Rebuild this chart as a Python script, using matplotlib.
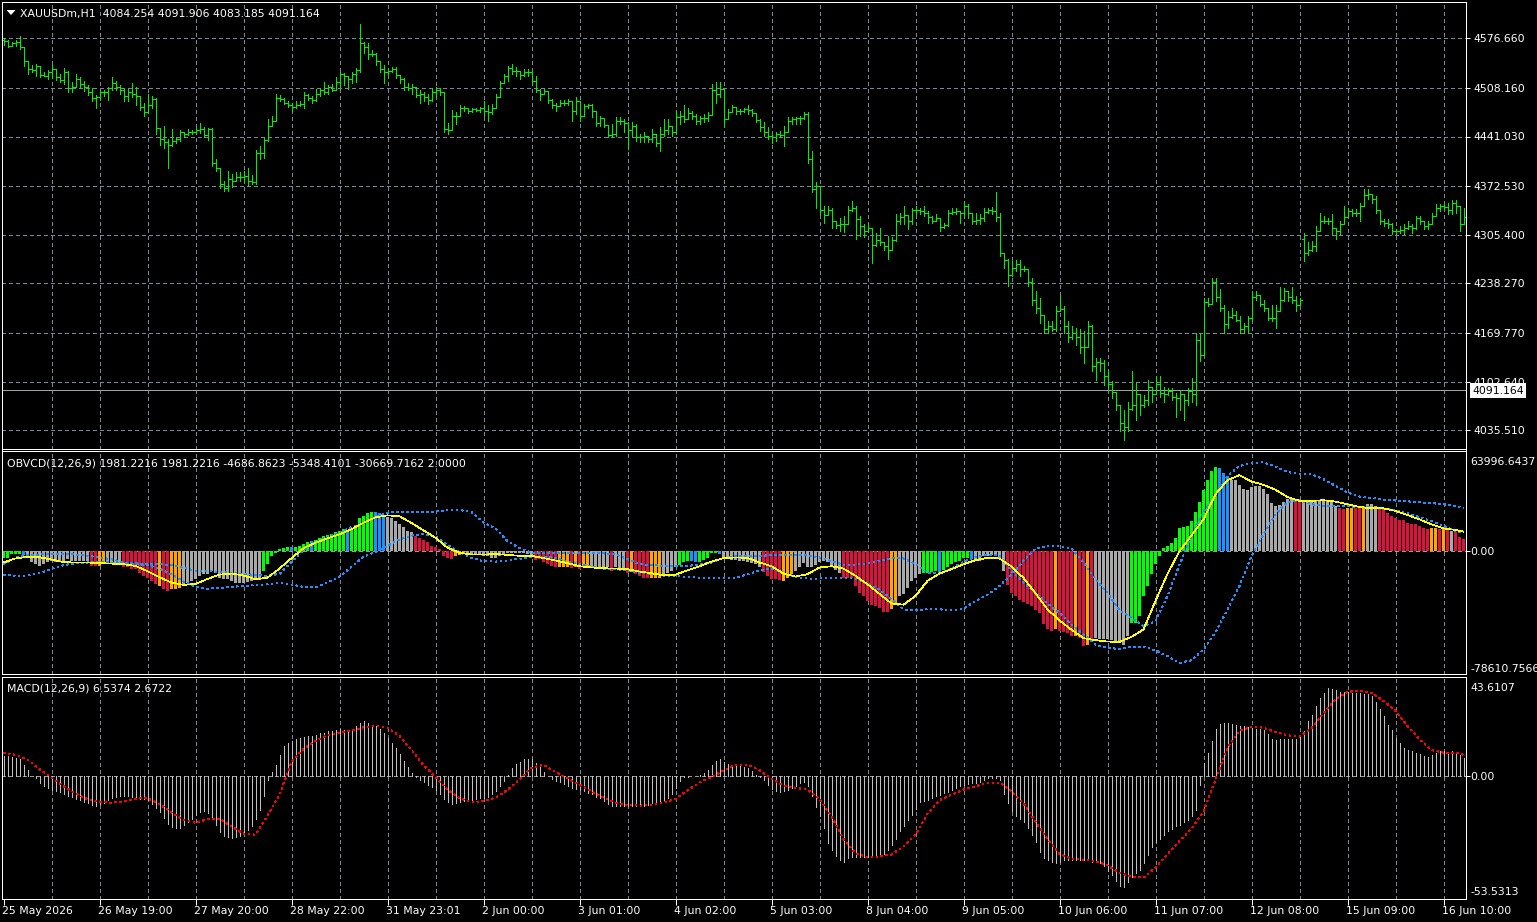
import matplotlib
matplotlib.use("Agg")
import matplotlib.pyplot as plt
from matplotlib.transforms import blended_transform_factory, offset_copy
from matplotlib.patches import Polygon

plt.rcParams["lines.scale_dashes"] = False
plt.rcParams["font.family"] = ["DejaVu Sans"]

W, H, DPI = 1537, 922, 100

# ---------------- price bars (H1) ----------------
opens = [
 4575,4573,4566,4570,4572,4564,4545,4535,4533,4538, 4526,4525,4530,4535,4523,4519,4530,4508,4510,4521,
 4514,4510,4503,4494,4496,4502,4503,4508,4515,4510, 4505,4497,4503,4500,4497,4482,4475,4485,4493,4453,
 4437,4433,4430,4435,4437,4447,4445,4447,4448,4450, 4452,4443,4451,4405,4398,4375,4370,4383,4380,4385,
 4385,4386,4380,4379,4418,4418,4436,4455,4462,4494, 4493,4488,4485,4482,4485,4486,4498,4494,4492,4500,
 4505,4503,4510,4506,4517,4528,4525,4520,4528,4533, 4570,4565,4555,4555,4545,4535,4530,4532,4534,4526,
 4520,4510,4508,4510,4498,4500,4495,4492,4502,4505, 4503,4452,4450,4470,4470,4480,4480,4476,4479,4478,
 4480,4476,4475,4480,4495,4515,4525,4536,4532,4532, 4526,4530,4530,4518,4505,4500,4504,4491,4485,4483,
 4487,4487,4490,4477,4490,4470,4483,4484,4477,4460, 4466,4457,4443,4444,4462,4463,4460,4450,4455,4440,
 4440,4442,4437,4445,4432,4445,4450,4455,4447,4468, 4470,4465,4473,4470,4463,4466,4466,4471,4505,4500,
 4507,4465,4475,4482,4477,4477,4479,4478,4473,4464, 4454,4448,4442,4440,4444,4443,4448,4462,4465,4466,
 4467,4472,4410,4368,4373,4340,4333,4340,4325,4319, 4320,4320,4340,4342,4327,4318,4310,4315,4292,4298,
 4295,4290,4285,4298,4325,4330,4333,4325,4340,4340, 4338,4335,4330,4325,4328,4316,4319,4335,4337,4338,
 4335,4345,4335,4325,4326,4328,4337,4340,4338,4330, 4280,4270,4250,4260,4265,4258,4258,4240,4215,4205,
 4195,4175,4180,4176,4200,4203,4180,4165,4170,4165, 4150,4150,4180,4125,4130,4128,4110,4100,4088,4070,
 4045,4040,4065,4070,4085,4070,4078,4095,4085,4100, 4087,4085,4090,4082,4080,4085,4078,4090,4085,4160,
 4140,4212,4210,4240,4220,4205,4182,4192,4195,4188, 4175,4180,4190,4220,4222,4210,4205,4190,4190,4200,
 4215,4228,4220,4215,4208,4300,4280,4285,4290,4310, 4325,4325,4325,4315,4310,4320,4330,4338,4336,4336,
 4345,4360,4362,4355,4340,4325,4322,4320,4310,4310, 4312,4315,4318,4315,4328,4325,4318,4320,4332,4343,
 4345,4344,4340,4350,4345,4320]
highs = [
 4577,4575,4572,4574,4580,4560,4545,4540,4541,4537, 4530,4533,4540,4533,4528,4536,4532,4516,4528,4523,
 4518,4512,4508,4499,4505,4506,4510,4523,4518,4512, 4507,4507,4515,4509,4493,4488,4500,4497,4494,4448,
 4455,4438,4452,4440,4450,4448,4452,4450,4453,4460, 4454,4453,4453,4410,4393,4380,4393,4390,4392,4392,
 4393,4398,4388,4422,4428,4440,4465,4470,4500,4498, 4494,4490,4488,4490,4490,4503,4500,4497,4507,4508,
 4516,4512,4513,4523,4530,4529,4525,4530,4536,4597, 4572,4570,4560,4557,4545,4540,4535,4537,4537,4525,
 4522,4515,4514,4505,4505,4503,4500,4508,4510,4508, 4502,4460,4478,4475,4485,4483,4481,4481,4480,4482,
 4490,4485,4486,4500,4518,4527,4539,4541,4537,4530, 4534,4534,4532,4525,4507,4507,4502,4493,4488,4491,
 4491,4493,4488,4495,4486,4486,4486,4486,4472,4470, 4463,4456,4458,4468,4468,4465,4461,4461,4458,4445,
 4447,4442,4451,4445,4454,4465,4465,4454,4477,4477, 4484,4481,4477,4472,4470,4472,4475,4514,4516,4516,
 4502,4479,4484,4481,4479,4481,4484,4479,4472,4465, 4461,4454,4445,4447,4449,4456,4468,4468,4468,4470,
 4475,4475,4421,4378,4370,4345,4345,4343,4325,4329, 4331,4345,4352,4345,4332,4320,4322,4315,4308,4315,
 4295,4304,4302,4334,4336,4345,4331,4343,4345,4343, 4345,4338,4331,4334,4327,4322,4340,4343,4343,4338,
 4352,4348,4334,4336,4334,4343,4343,4344,4364,4336, 4281,4272,4269,4271,4271,4262,4258,4246,4228,4218,
 4191,4186,4186,4207,4221,4207,4186,4179,4177,4175, 4172,4186,4181,4135,4135,4133,4119,4103,4082,4071,
 4064,4075,4117,4101,4078,4084,4105,4094,4110,4110, 4096,4094,4094,4087,4091,4084,4094,4108,4170,4170,
 4218,4218,4246,4246,4230,4209,4200,4204,4200,4193, 4184,4193,4228,4228,4216,4216,4204,4209,4209,4234,
 4232,4225,4234,4221,4218,4308,4295,4297,4318,4336, 4331,4329,4334,4315,4325,4345,4343,4341,4341,4350,
 4368,4368,4359,4359,4338,4327,4327,4322,4313,4318, 4320,4325,4320,4331,4331,4325,4325,4336,4348,4348,
 4348,4350,4354,4354,4338,4343]
lows = [
 4568,4565,4566,4566,4562,4539,4528,4530,4525,4523, 4524,4521,4522,4519,4516,4513,4502,4502,4510,4508,
 4504,4499,4490,4481,4492,4497,4492,4505,4506,4500, 4490,4490,4496,4484,4478,4470,4475,4480,4445,4430,
 4425,4398,4428,4432,4435,4440,4443,4444,4446,4446, 4440,4436,4400,4393,4370,4366,4366,4372,4380,4380,
 4378,4374,4375,4375,4410,4412,4435,4458,4465,4490, 4486,4482,4476,4480,4483,4480,4491,4487,4490,4497,
 4500,4500,4504,4505,4510,4512,4507,4515,4516,4530, 4556,4548,4552,4540,4530,4515,4526,4530,4522,4515,
 4505,4505,4500,4496,4487,4490,4486,4490,4495,4498, 4447,4445,4455,4458,4470,4476,4474,4475,4476,4475,
 4470,4462,4472,4486,4497,4516,4518,4527,4525,4521, 4525,4525,4514,4502,4491,4500,4488,4481,4477,4484,
 4484,4484,4463,4472,4463,4472,4481,4468,4456,4456, 4454,4440,4440,4442,4458,4447,4424,4442,4435,4433,
 4433,4433,4433,4428,4421,4442,4445,4442,4456,4458, 4461,4465,4465,4458,4458,4461,4463,4472,4488,4495,
 4456,4465,4475,4472,4472,4475,4472,4470,4461,4449, 4442,4438,4432,4435,4440,4428,4449,4458,4458,4458,
 4465,4405,4364,4343,4334,4322,4336,4315,4315,4311, 4309,4320,4338,4299,4304,4302,4311,4267,4290,4292,
 4285,4272,4288,4297,4320,4320,4313,4320,4334,4334, 4331,4322,4322,4324,4311,4315,4318,4334,4334,4322,
 4331,4329,4320,4320,4320,4325,4336,4334,4325,4276, 4260,4235,4248,4255,4248,4255,4235,4209,4198,4184,
 4170,4170,4172,4172,4200,4170,4158,4161,4154,4142, 4128,4154,4117,4105,4117,4098,4091,4080,4064,4034,
 4022,4034,4064,4050,4057,4068,4071,4075,4087,4082, 4075,4084,4078,4054,4064,4050,4071,4075,4071,4131,
 4158,4207,4211,4214,4200,4170,4177,4191,4186,4170, 4170,4170,4188,4216,4207,4200,4188,4186,4177,4200,
 4214,4214,4211,4200,4209,4269,4278,4283,4283,4315, 4322,4320,4306,4299,4306,4322,4334,4331,4331,4324,
 4345,4355,4350,4336,4320,4318,4315,4306,4306,4308, 4306,4313,4308,4313,4320,4313,4313,4322,4334,4338,
 4341,4334,4334,4336,4311,4320]
closes = [
 4573,4566,4570,4572,4564,4545,4535,4533,4538,4526, 4525,4530,4535,4523,4519,4530,4508,4510,4521,4514,
 4510,4503,4494,4496,4502,4503,4508,4515,4510,4505, 4497,4503,4500,4497,4482,4475,4485,4493,4453,4437,
 4433,4430,4435,4437,4447,4445,4447,4448,4450,4452, 4443,4451,4405,4398,4375,4370,4383,4380,4385,4385,
 4386,4380,4379,4418,4418,4436,4455,4462,4494,4493, 4488,4485,4482,4485,4486,4498,4494,4492,4500,4505,
 4503,4510,4506,4517,4528,4525,4520,4528,4533,4570, 4565,4555,4555,4545,4535,4530,4532,4534,4526,4520,
 4510,4508,4510,4498,4500,4495,4492,4502,4505,4503, 4452,4450,4470,4470,4480,4480,4476,4479,4478,4480,
 4476,4475,4480,4495,4515,4525,4536,4532,4532,4526, 4530,4530,4518,4505,4500,4504,4491,4485,4483,4487,
 4487,4490,4477,4490,4470,4483,4484,4477,4460,4466, 4457,4443,4444,4462,4463,4460,4450,4455,4440,4440,
 4442,4437,4445,4432,4445,4450,4455,4447,4468,4470, 4465,4473,4470,4463,4466,4466,4471,4505,4500,4507,
 4465,4475,4482,4477,4477,4479,4478,4473,4464,4454, 4448,4442,4440,4444,4443,4448,4462,4465,4466,4467,
 4472,4410,4368,4373,4340,4333,4340,4325,4319,4320, 4320,4340,4342,4327,4318,4310,4315,4292,4298,4295,
 4290,4285,4298,4325,4330,4333,4325,4340,4340,4338, 4335,4330,4325,4328,4316,4319,4335,4337,4338,4335,
 4345,4335,4325,4326,4328,4337,4340,4338,4330,4280, 4270,4250,4260,4265,4258,4258,4240,4215,4205,4195,
 4175,4180,4176,4200,4203,4180,4165,4170,4165,4150, 4150,4180,4125,4130,4128,4110,4100,4088,4070,4045,
 4040,4065,4070,4085,4070,4078,4095,4085,4100,4087, 4085,4090,4082,4080,4085,4078,4090,4085,4160,4140,
 4212,4210,4240,4220,4205,4182,4192,4195,4188,4175, 4180,4190,4220,4222,4210,4205,4190,4190,4200,4215,
 4228,4220,4215,4208,4215,4280,4285,4290,4310,4325, 4325,4325,4315,4310,4320,4330,4338,4336,4336,4345,
 4360,4362,4355,4340,4325,4322,4320,4310,4310,4312, 4315,4318,4315,4328,4325,4318,4320,4332,4343,4345,
 4344,4340,4350,4345,4320,4330]

price_ticks = [4576.660, 4508.160, 4441.030, 4372.530, 4305.400, 4238.270, 4169.770, 4102.640, 4035.510]
price_ylim = (4009.06, 4626.12)
last_price = 4091.164
title_price = "XAUUSDm,H1  4084.254 4091.906 4083.185 4091.164"

# ---------------- OBVCD (values in thousands) ----------------
obv_hist_k = [
 -4.1,-4.1,-1.9,-1.9,-1.9,-2.6,-3.0,-7.3,-8.4,-9.5, -8.4,-7.3,-6.2,-7.3,-7.3,-6.2,-5.2,-6.2,-6.2,-6.2,
 -6.2,-6.2,-9.5,-9.5,-9.5,-8.4,-8.4,-8.4,-8.4,-8.4, -10.5,-10.5,-11.6,-11.6,-13.8,-15.9,-17.0,-19.1,-21.3,-22.4,
 -24.5,-25.6,-24.5,-24.5,-23.4,-21.3,-20.2,-19.1,-18.1,-15.9, -14.8,-14.8,-12.7,-13.8,-17.0,-18.1,-18.1,-19.1,-20.2,-20.2,
 -20.2,-19.8,-19.1,-17.0,-17.0,-12.7,-8.4,-3.0,-0.9,1.3, 1.7,2.4,2.6,2.6,3.4,4.5,6.0,6.5,7.3,8.2,
 9.5,10.3,11.0,12.0,13.1,14.2,13.6,14.2,16.3,21.1, 22.8,24.3,25.0,25.0,24.3,22.8,21.7,21.1,19.6,17.4,
 15.3,13.1,12.0,9.5,8.2,7.3,5.6,3.0,2.8,1.3, -3.4,-4.1,-5.2,-3.4,-2.6,-1.3,-1.3,-1.7,-1.7,-1.7,
 -3.0,-3.4,-4.1,-4.1,-3.0,-1.9,-1.3,-0.9,-0.9,-0.9, -1.3,-1.9,-2.6,-5.6,-5.2,-6.9,-8.4,-9.5,-9.9,-9.9,
 -9.9,-9.9,-10.8,-10.5,-11.2,-10.5,-9.9,-9.9,-10.5,-10.5, -10.5,-10.5,-12.7,-10.5,-11.2,-11.2,-13.8,-13.3,-14.8,-15.9,
 -17.0,-17.0,-17.0,-17.0,-17.0,-14.8,-13.8,-12.7,-10.5,-9.0, -7.3,-6.2,-6.2,-7.3,-6.9,-5.6,-4.1,-1.3,-1.3,-1.9,
 -4.7,-5.2,-5.6,-5.8,-6.2,-6.2,-6.9,-7.7,-8.4,-9.9, -13.3,-16.3,-17.6,-18.1,-18.5,-19.1,-17.0,-14.8,-12.7,-9.9,
 -7.7,-9.9,-9.9,-9.0,-6.9,-6.2,-7.3,-9.5,-12.0,-14.2, -17.0,-17.0,-17.0,-22.4,-26.7,-28.8,-32.0,-34.8,-35.3,-36.4,
 -39.1,-39.1,-37.4,-33.6,-28.8,-27.7,-23.4,-19.1,-17.0,-14.8, -13.8,-13.8,-13.3,-12.7,-13.3,-12.0,-9.9,-8.4,-7.3,-6.2,
 -4.1,-4.1,-5.2,-5.6,-6.2,-3.4,-3.0,-2.6,-3.0,-5.2, -12.7,-21.9,-26.7,-28.8,-31.4,-32.7,-34.2,-35.3,-38.1,-39.6,
 -47.1,-50.3,-51.0,-50.3,-51.4,-52.1,-52.5,-54.6,-54.6,-55.7, -61.1,-60.0,-58.5,-55.7,-56.4,-56.4,-56.4,-56.8,-57.9,-58.9,
 -60.0,-54.6,-46.0,-46.0,-41.7,-28.8,-22.4,-14.8,-8.4,-3.0, 1.7,3.4,5.2,8.6,14.6,15.3,16.3,19.6,25.4,31.5,
 39.3,45.6,51.6,54.3,53.3,50.1,48.4,45.8,45.6,42.6, 39.8,39.1,40.9,41.9,41.9,39.8,37.0,31.2,29.0,29.5,
 31.6,33.3,33.8,32.7,31.8,31.8,32.7,31.8,32.3,32.7, 32.7,32.7,31.8,29.0,27.5,26.9,27.5,28.0,27.5,27.5,
 28.4,30.5,30.5,29.0,27.5,26.2,24.7,22.6,21.1,20.0, 20.0,18.3,17.6,17.6,16.1,15.1,14.4,14.6,15.1,14.4,
 14.6,14.0,12.9,12.3,9.0,7.5]
# colour of each histogram bar, as runs: G=lime, B=dodger blue, S=gray, R=crimson, O=orange
obv_color_runs = [
 ("G",5),("B",1),("S",16),("R",2),("O",2),("S",4),("R",9),("O",1),("R",2),("O",3),("S",20),
 ("G",7),("B",1),("G",4),("B",1),("G",8),("B",1),("G",6),("B",3),("S",7),("R",10),("O",2),
 ("S",18),("R",6),("O",3),("R",1),("O",1),("R",1),("O",2),("S",5),("R",1),("S",3),("R",1),
 ("O",1),("R",4),("O",3),("S",4),("G",3),("B",2),("G",5),("B",1),("S",10),("R",5),("O",3),
 ("S",12),("R",12),("O",2),("S",6),("G",4),("B",1),("G",7),("B",1),("S",8),("R",12),("O",1),
 ("R",4),("O",1),("R",2),("O",1),("R",1),("S",9),("G",22),("B",3),("S",16),("R",2),("S",9),
 ("R",2),("O",2),("R",2),("O",1),("S",3),("R",13),("O",2),("R",1),("O",1),("R",1),("S",1),("R",3)]

# smooth lines sampled every third bar (plus the last bar)
line_bars = list(range(0, 364, 3)) + [365]
obv_signal_k = [
 -7.3,-4.7,-3.7,-3.9,-5.4,-7.1,-7.3,-7.3,-7.7,-8.0,-8.4,-9.5,-12.9,-16.8,-20.2,-21.7,-21.1,-17.9,-15.1,-14.4,
 -15.7,-18.1,-17.0,-11.2,-4.5,1.9,5.4,8.2,10.8,14.0,18.3,21.7,23.0,22.4,18.1,13.3,8.6,2.2,-1.1,-2.2,
 -2.2,-1.9,-2.4,-3.0,-3.0,-4.5,-6.0,-7.7,-9.7,-10.5,-11.0,-11.2,-11.6,-13.1,-14.2,-15.5,-15.1,-12.3,-9.7,-6.7,
 -4.5,-4.1,-4.3,-7.3,-9.7,-14.4,-16.3,-14.8,-10.5,-9.7,-11.2,-15.9,-21.3,-27.5,-33.6,-34.4,-28.8,-19.1,-14.4,-11.6,
 -8.4,-5.8,-4.3,-4.7,-9.9,-17.2,-27.1,-37.4,-44.5,-50.5,-55.9,-57.2,-58.1,-58.3,-55.1,-50.3,-32.0,-14.6,0.0,10.1,
 20.4,36.6,45.6,48.8,44.7,42.6,39.4,34.8,32.3,32.3,32.7,31.8,30.1,28.4,27.5,27.5,25.8,23.2,20.4,17.2,
 14.6,13.6,12.5]
obv_band_a_k = [
 -15.5,-15.7,-15.7,-14.2,-11.4,-9.0,-7.7,-7.3,-7.1,-7.3,-7.7,-8.4,-9.0,-11.2,-14.8,-19.6,-22.8,-24.1,-23.7,-23.0,
 -22.4,-21.7,-21.3,-20.2,-21.5,-23.0,-23.2,-20.2,-16.3,-10.1,-3.7,-0.4,3.4,7.5,9.9,11.0,9.5,4.1,-0.6,-4.3,
 -6.5,-6.7,-6.0,-4.9,-3.9,-3.4,-4.5,-6.7,-8.4,-9.7,-11.2,-11.6,-12.3,-13.8,-14.6,-15.7,-16.1,-16.6,-17.0,-17.2,
 -17.4,-17.2,-14.8,-12.5,-11.2,-13.8,-16.6,-17.6,-17.6,-17.2,-17.0,-17.6,-20.9,-24.5,-31.0,-37.4,-38.1,-37.2,-37.4,-38.1,
 -37.0,-32.0,-28.0,-22.4,-15.1,-6.2,1.5,3.4,3.0,1.9,-7.3,-18.1,-26.7,-38.1,-42.8,-48.2,-45.0,-28.8,-8.8,9.9,
 25.0,36.1,48.4,54.6,56.8,57.0,54.4,50.8,49.5,49.3,46.2,41.9,37.6,35.1,34.2,33.1,32.5,32.0,31.4,30.8,
 30.1,29.0,27.5]
obv_band_b_k = [
 -8.4,-4.3,-2.6,-2.2,-1.9,-1.9,-2.2,-3.0,-4.1,-5.2,-7.3,-7.7,-8.4,-8.4,-9.0,-10.8,-12.5,-12.9,-13.3,-14.0,
 -14.6,-15.3,-15.9,-14.6,-6.9,0.6,6.0,9.2,11.8,15.5,18.1,21.9,24.5,25.4,25.2,25.0,25.4,26.5,26.5,25.0,
 18.5,14.6,6.5,1.9,-0.9,-1.3,-1.3,-1.1,-1.3,-1.3,-1.5,-1.9,-5.2,-8.4,-9.0,-9.5,-9.7,-9.7,-8.4,-7.3,
 -4.5,-3.4,-3.0,-3.0,-2.6,-2.4,-2.2,-2.8,-4.1,-6.5,-8.6,-8.8,-7.7,-6.2,-4.7,-4.7,-8.2,-13.8,-14.4,-11.2,
 -6.9,-3.7,-2.2,-2.6,-12.7,-20.2,-26.7,-33.6,-39.6,-47.1,-53.6,-60.0,-62.2,-62.8,-61.5,-61.3,-63.7,-67.5,-71.8,-70.1,
 -63.2,-52.1,-37.4,-22.4,-3.2,10.8,23.7,31.6,32.7,30.1,29.0,29.0,28.8,28.4,28.0,27.3,26.2,24.3,21.7,19.4,
 16.3,12.9,11.8]
obv_ylim = (-78610.7566, 63996.6437)
obv_title = "OBVCD(12,26,9) 1981.2216 1981.2216 -4686.8623 -5348.4101 -30669.7162 2.0000"

# ---------------- MACD ----------------
macd_main = [
 8.8,8.8,8.5,8.1,7.3,5.1,2.6,0.0,-0.7,-3.2, -4.4,-5.3,-5.9,-6.4,-7.0,-7.9,-8.5,-9.1,-10.0,-10.5,
 -11.3,-11.9,-12.6,-12.9,-12.3,-11.6,-10.5,-9.5,-8.9,-8.6, -8.5,-8.8,-8.9,-9.4,-9.8,-10.1,-10.5,-12.0,-13.9,-15.8,
 -18.3,-20.8,-22.3,-22.9,-22.7,-21.5,-20.1,-18.8,-17.1,-15.8, -15.4,-16.1,-17.9,-21.5,-24.3,-26.1,-26.8,-27.1,-26.8,-26.2,
 -25.2,-23.7,-22.0,-18.8,-14.7,-8.5,-1.5,1.9,4.8,9.2, 13.2,14.4,15.2,16.1,16.7,17.3,17.6,17.7,18.0,18.8,
 19.0,19.6,19.9,20.4,20.5,20.2,19.9,20.8,22.0,23.4, 24.0,23.4,22.6,22.0,20.8,18.8,16.8,14.7,12.5,9.5,
 6.6,4.1,1.2,-0.4,-1.5,-2.6,-3.7,-4.7,-5.9,-7.6, -10.0,-11.4,-12.3,-11.9,-11.3,-10.7,-10.4,-10.3,-10.0,-9.7,
 -9.5,-9.1,-7.6,-6.3,-4.4,-2.1,0.7,3.5,5.3,6.4, 7.3,7.6,7.3,5.9,3.8,1.8,0.1,-1.2,-1.9,-2.6,
 -3.5,-4.2,-5.0,-5.6,-6.0,-6.6,-7.3,-7.9,-8.9,-9.7, -10.7,-12.0,-13.2,-13.2,-12.9,-12.9,-13.0,-13.2,-13.2,-12.9,
 -12.9,-12.5,-11.9,-11.7,-11.4,-10.7,-9.5,-7.6,-5.3,-2.3, -0.4,-0.2,0.1,0.2,0.3,1.5,2.9,5.1,6.6,7.3,
 6.2,5.3,5.0,4.7,4.4,4.1,3.7,2.2,0.7,-0.3, -1.8,-3.7,-5.6,-6.4,-6.9,-6.6,-5.9,-5.1,-4.1,-2.9,
 -2.6,-4.4,-8.5,-13.5,-17.6,-22.7,-29.3,-32.2,-34.9,-36.9, -37.4,-36.0,-35.3,-35.2,-35.2,-35.2,-35.2,-35.2,-34.9,-34.6,
 -34.0,-32.2,-30.0,-27.5,-24.2,-21.7,-19.3,-16.8,-14.4,-11.4, -11.0,-10.3,-9.4,-8.8,-8.1,-7.3,-6.9,-6.2,-5.3,-4.5,
 -4.0,-3.5,-3.1,-2.9,-2.6,-1.8,-1.0,-0.6,-0.6,-1.5, -7.6,-11.7,-15.4,-17.3,-18.8,-20.2,-22.7,-25.6,-28.9,-33.0,
 -35.9,-36.9,-37.5,-38.1,-37.4,-36.8,-36.6,-36.6,-36.6,-36.6, -36.6,-36.9,-37.4,-37.7,-38.1,-39.3,-41.3,-43.2,-45.7,-48.1,
 -48.4,-46.2,-44.0,-42.5,-41.0,-38.1,-34.4,-31.1,-29.0,-27.4, -25.6,-24.2,-23.0,-22.0,-21.2,-20.2,-19.0,-17.6,-14.7,-4.0,
 5.6,10.0,15.4,20.8,23.0,23.4,23.4,23.0,22.3,22.0, 21.8,21.4,21.2,20.8,20.5,20.1,18.3,16.4,15.8,16.1,
 16.3,16.3,16.1,16.1,17.3,19.8,24.2,26.7,30.5,34.4, 36.6,38.4,38.1,37.5,36.9,36.9,36.9,36.6,36.6,36.3,
 36.0,35.9,34.9,32.5,29.3,26.4,22.3,20.2,16.8,14.7, 12.5,11.4,11.0,10.3,9.5,8.8,8.5,9.1,10.0,11.0,
 11.0,10.5,10.8,10.3,9.2,8.1]
macd_signal = [
 10.0,9.4,7.3,3.1,-0.6,-4.4,-7.6,-10.1,-11.4,-11.6,-11.0,-9.8,-9.7,-12.2,-15.8,-19.2,-20.4,-18.8,-18.6,-22.0,
 -25.1,-25.6,-17.3,-8.1,6.2,12.0,15.5,17.9,19.0,19.8,21.4,22.0,21.2,17.6,11.4,4.8,-0.4,-5.9,-9.7,-11.4,
 -11.0,-9.4,-6.0,-1.5,3.7,5.0,1.8,-0.9,-3.7,-6.6,-9.4,-11.6,-12.6,-12.9,-12.5,-11.6,-10.0,-6.2,-2.8,-0.4,
 2.5,5.0,5.1,2.6,-1.2,-4.0,-5.1,-5.9,-10.0,-17.6,-27.5,-33.7,-35.5,-35.2,-34.3,-30.8,-25.6,-16.4,-10.5,-8.1,
 -5.9,-4.4,-2.9,-2.8,-6.6,-12.0,-19.9,-27.5,-34.0,-36.2,-36.6,-37.2,-39.0,-42.2,-44.1,-44.4,-40.0,-34.1,-28.4,-23.0,
 -15.4,-1.5,12.5,19.8,21.7,21.2,19.3,17.9,17.3,21.0,27.5,33.7,36.9,37.4,36.3,33.0,28.6,22.0,16.1,11.4,
 10.3,10.3,9.4]
macd_ylim = (-53.5313, 43.6107)
macd_title = "MACD(12,26,9) 6.5374 2.6722"

# ---------------- time axis ----------------
x_label_bars = [0, 24, 48, 72, 96, 120, 144, 168, 192, 216, 240, 264, 288, 312, 336, 360]
x_labels = ["25 May 2026", "26 May 19:00", "27 May 20:00", "28 May 22:00", "31 May 23:01",
            "2 Jun 00:00", "3 Jun 01:00", "4 Jun 02:00", "5 Jun 03:00", "8 Jun 04:00",
            "9 Jun 05:00", "10 Jun 06:00", "11 Jun 07:00", "12 Jun 08:00", "15 Jun 09:00",
            "16 Jun 10:00"]
grid_bars = list(range(12, 366, 12))

# ---------------- styling ----------------
BG = "black"
FG = "white"
GRID = "#778899"
LEVEL = "#9a9a9a"
BAR_GREEN = "#00ee00"
OBV_COLORS = {"G": "#00ff00", "B": "#1e90ff", "S": "#a9a9a9", "R": "#dc143c", "O": "#ffa500"}
PX = 72.0 / DPI      # one pixel in points
FS = 7.8
GRID_DASH = (3 * PX, 3 * PX)

n = len(closes)
bars = list(range(n))

fig = plt.figure(figsize=(W / DPI, H / DPI), dpi=DPI, facecolor=BG)


def rect(left, top, right, bottom):
    return [left / W, 1 - bottom / H, (right - left) / W, (bottom - top) / H]


ax1 = fig.add_axes(rect(2, 2.5, 1466, 449.5))
ax2 = fig.add_axes(rect(2, 451.5, 1466, 673.5))
ax3 = fig.add_axes(rect(2, 676.5, 1466, 898.5))

for ax in (ax1, ax2, ax3):
    ax.set_facecolor(BG)
    ax.set_xlim(-0.375, n - 0.375)
    for s in ax.spines.values():
        s.set_color(FG)
        s.set_linewidth(PX)
    ax.tick_params(axis="both", which="both", left=False, bottom=False,
                   labelleft=False, labelbottom=False)
    for b in grid_bars:
        ax.axvline(b, color=GRID, lw=PX, dashes=GRID_DASH, antialiased=False, zorder=0.5)

# ---- price panel ----
ax1.set_ylim(*price_ylim)
for v in price_ticks:
    ax1.axhline(v, color=GRID, lw=PX, dashes=GRID_DASH, antialiased=False, zorder=0.5)
ax1.axhline(last_price, color="#a0a0a8", lw=PX, antialiased=False, zorder=1)
bar_lo = [min(l, o, c) for l, o, c in zip(lows, opens, closes)]
bar_hi = [max(h, o, c) for h, o, c in zip(highs, opens, closes)]
ax1.vlines(bars, bar_lo, bar_hi, colors=BAR_GREEN, lw=PX, antialiased=False, zorder=2)
ax1.hlines(opens, [b - 0.5 for b in bars], bars, colors=BAR_GREEN, lw=PX, antialiased=False, zorder=2)
ax1.hlines(closes, bars, [b + 0.5 for b in bars], colors=BAR_GREEN, lw=PX, antialiased=False, zorder=2)
ax1.set_yticks(price_ticks)
ax1.tick_params(axis="y", right=True, length=3, width=PX, color=FG, labelright=False)

# ---- OBVCD panel ----
ax2.set_ylim(*obv_ylim)
ax2.axhline(0, color=LEVEL, lw=PX, dashes=(3 * PX, 3 * PX), antialiased=False, zorder=1)
codes = "".join(c * k for c, k in obv_color_runs)
ax2.bar(bars, [v * 1000 for v in obv_hist_k], width=0.75,
        color=[OBV_COLORS[c] for c in codes], linewidth=0, antialiased=False, zorder=2)
ax2.plot(line_bars, [v * 1000 for v in obv_band_a_k], color="#1e90ff", lw=0.85 * PX,
         dashes=(2 * PX, 3 * PX), antialiased=False, zorder=3)
ax2.plot(line_bars, [v * 1000 for v in obv_band_b_k], color="#1e90ff", lw=0.85 * PX,
         dashes=(2 * PX, 3 * PX), antialiased=False, zorder=3)
ax2.plot(line_bars, [v * 1000 for v in obv_signal_k], color="#ffff00", lw=0.7 * PX,
         antialiased=False, zorder=4)
ax2.set_yticks([0])
ax2.tick_params(axis="y", right=True, length=3, width=PX, color=FG, labelright=False)

# ---- MACD panel ----
ax3.set_ylim(*macd_ylim)
ax3.axhline(0, color=LEVEL, lw=PX, dashes=(3 * PX, 3 * PX), antialiased=False, zorder=1)
ax3.vlines(bars, 0, macd_main, colors="#c0c0c0", lw=PX, antialiased=False, zorder=2)
ax3.plot(line_bars, macd_signal, color="#ff0000", lw=0.85 * PX, dashes=(2 * PX, 3 * PX),
         antialiased=False, zorder=3)
ax3.set_yticks([0])
ax3.set_xticks(x_label_bars)
ax3.tick_params(axis="y", right=True, length=3, width=PX, color=FG, labelright=False)
ax3.tick_params(axis="x", bottom=True, length=4, width=PX, color=FG, labelbottom=False)

# ---------------- texts ----------------
txt = dict(color=FG, fontsize=FS, va="baseline", ha="left")


def fx(x):
    return x / W


def fy(y):
    return 1 - y / H


def axis_label(ax, value, text, x_px, down_px, **kw):
    tr = blended_transform_factory(fig.transFigure, ax.transData)
    tr = offset_copy(tr, fig=fig, x=0, y=-down_px, units="dots")
    opts = dict(txt)
    opts.update(kw)
    fig.text(fx(x_px), value, text, transform=tr, **opts)


# panel titles
fig.patches.append(Polygon([[fx(6.5), fy(10)], [fx(15.5), fy(10)], [fx(11), fy(15)]],
                           closed=True, facecolor=FG, edgecolor="none",
                           transform=fig.transFigure, figure=fig))
fig.text(fx(20), fy(16.5), title_price, **txt)
fig.text(fx(7), fy(466.5), obv_title, **txt)
fig.text(fx(7), fy(691.5), macd_title, **txt)

# price scale
for v in price_ticks:
    axis_label(ax1, v, f"{v:.3f}", 1473, 3.8, zorder=5)
fig.text(fx(1472), fy(393.7), f"{last_price:.3f}", color="black", fontsize=FS,
         va="baseline", ha="left", zorder=10,
         bbox=dict(boxstyle="square,pad=0.22", facecolor="white", edgecolor="none"))

# OBVCD scale
fig.text(fx(1470), fy(465), f"{obv_ylim[1]:.4f}", **txt)
axis_label(ax2, 0, "0.00", 1470, 4.0)
fig.text(fx(1470), fy(671.5), f"{obv_ylim[0]:.4f}", **txt)

# MACD scale
fig.text(fx(1470), fy(690.5), f"{macd_ylim[1]:.4f}", **txt)
axis_label(ax3, 0, "0.00", 1470, 4.0)
fig.text(fx(1470), fy(894.5), f"{macd_ylim[0]:.4f}", **txt)

# time labels
tr_x = blended_transform_factory(ax3.transData, fig.transFigure)
tr_x = offset_copy(tr_x, fig=fig, x=-1.5, y=0, units="dots")
for b, lab in zip(x_label_bars, x_labels):
    fig.text(b, fy(913.5), lab, transform=tr_x, **txt)

fig.savefig("out.png", dpi=DPI, facecolor=BG)
